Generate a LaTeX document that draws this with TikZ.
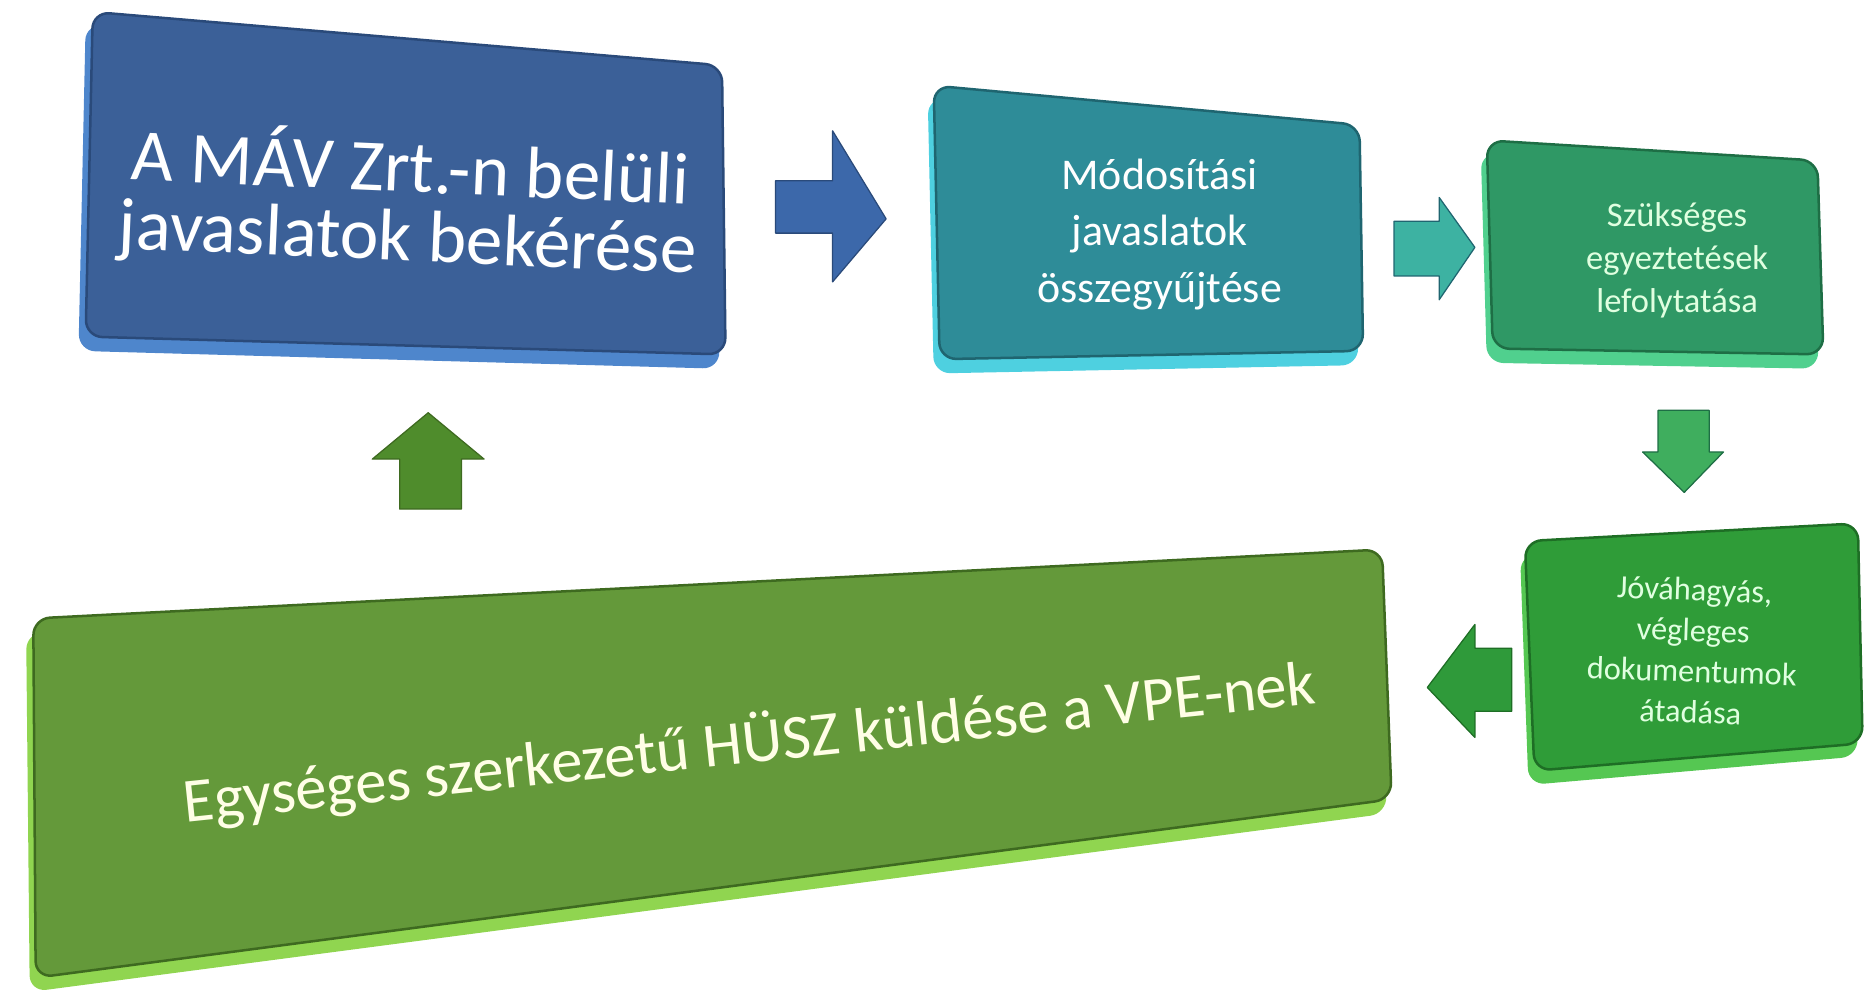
\documentclass[tikz,border=0pt]{standalone}
\usepackage{fontspec}
\setmainfont{Carlito}
\definecolor{bluefront}{HTML}{3B6098}
\definecolor{blueside}{HTML}{4E86CC}
\definecolor{blueedge}{HTML}{2A4A7A}
\definecolor{bluearrow}{HTML}{3C68AA}
\definecolor{tealfront}{HTML}{2E8C98}
\definecolor{tealside}{HTML}{4ED0E0}
\definecolor{tealedge}{HTML}{1F6570}
\definecolor{tealarrow}{HTML}{3DB2A2}
\definecolor{jadefront}{HTML}{2F9865}
\definecolor{jadeside}{HTML}{50D08E}
\definecolor{jadeedge}{HTML}{1E6E45}
\definecolor{jadearrow}{HTML}{3FAE5E}
\definecolor{leaffront}{HTML}{2F9C38}
\definecolor{leafside}{HTML}{55C752}
\definecolor{leafedge}{HTML}{1E6E25}
\definecolor{leafarrow}{HTML}{2F9A3A}
\definecolor{olivefront}{HTML}{64993A}
\definecolor{oliveside}{HTML}{90D550}
\definecolor{oliveedge}{HTML}{3E6A20}
\definecolor{olivearrow}{HTML}{4F8C2C}

\begin{document}
\begin{tikzpicture}[x=0.2mm,y=-0.2mm]
            \tikzstyle{every node}+=[inner sep=0pt, align=center, text=white]
            \tikzstyle{bevel}=[rounded corners=8pt]
            \tikzstyle{face}=[bevel, line width=1.2pt]
            \tikzstyle{blockarrow}=[line width=0.6pt, line join=round]
            \useasboundingbox (0,0) rectangle (1568,837);
            \fill [bevel, blueside] (72,20) -- (601,65) -- (605,310) -- (66,295) -- cycle;
            \filldraw [face, fill=bluefront, draw=blueedge] (78,10) -- (607,55) -- (610,298) -- (72,283) -- cycle;
            \draw (344,170) node (bekeres) [rotate=-2.5, font=\fontsize{35}{33}\selectfont] {A MÁV Zrt.-n belüli\\javaslatok bekérése};
            \filldraw [blockarrow, fill=bluearrow, draw=blueedge] (652,152) -- (700,152) -- (700,110) -- (745,184) -- (700,237) -- (700,196) -- (652,196) -- cycle;
            \fill [bevel, tealside] (780,82) -- (1139,115) -- (1142,307) -- (785,314) -- cycle;
            \filldraw [face, fill=tealfront, draw=tealedge] (785,72) -- (1143,105) -- (1146,295) -- (790,302) -- cycle;
            \draw (975,197) node (gyujtes) [font=\fontsize{21}{27}\selectfont] {Módosítási\\javaslatok\\összegyűjtése};
            \filldraw [blockarrow, fill=tealarrow, draw=tealedge] (1172,186) -- (1210,186) -- (1210,166) -- (1240,208) -- (1210,252) -- (1210,232) -- (1172,232) -- cycle;
            \fill [bevel, jadeside] (1245,128) -- (1524,145) -- (1529,310) -- (1250,305) -- cycle;
            \filldraw [face, fill=jadefront, draw=jadeedge] (1250,118) -- (1528,135) -- (1533,298) -- (1255,293) -- cycle;
            \draw (1410,219) node (egyeztetes) [text=white!88!green, font=\fontsize{16.5}{20.5}\selectfont] {Szükséges\\egyeztetések\\lefolytatása};
            \filldraw [blockarrow, fill=jadearrow, draw=jadeedge] (1394,345) -- (1437,345) -- (1437,380) -- (1449,380) -- (1416,414) -- (1381,380) -- (1394,380) -- cycle;
            \fill [bevel, leafside] (1278,466) -- (1558,451) -- (1562,636) -- (1285,660) -- cycle;
            \filldraw [face, fill=leaffront, draw=leafedge] (1282,455) -- (1562,440) -- (1566,625) -- (1290,648) -- cycle;
            \draw (1423,547) node (jovahagyas) [rotate=-2, text=white!88!green, font=\fontsize{15.5}{19.5}\selectfont] {Jóváhagyás,\\végleges\\dokumentumok\\átadása};
            \filldraw [blockarrow, fill=leafarrow, draw=leafedge] (1271,545) -- (1240,545) -- (1240,525) -- (1200,578) -- (1240,620) -- (1240,598) -- (1271,598) -- cycle;
            \fill [bevel, oliveside] (22,532) -- (1158,474) -- (1166,684) -- (25,834) -- cycle;
            \filldraw [face, fill=olivefront, draw=oliveedge] (28,520) -- (1162,462) -- (1170,672) -- (30,822) -- cycle;
            \draw (630,625) node (kuldes) [rotate=6, text=white!90!yellow, font=\fontsize{30}{36}\selectfont] {Egységes szerkezetű HÜSZ küldése a VPE-nek};
            \filldraw [blockarrow, fill=olivearrow, draw=oliveedge] (336,428) -- (336,386) -- (313,386) -- (360,347) -- (407,386) -- (388,386) -- (388,428) -- cycle;
\end{tikzpicture}
\end{document}
